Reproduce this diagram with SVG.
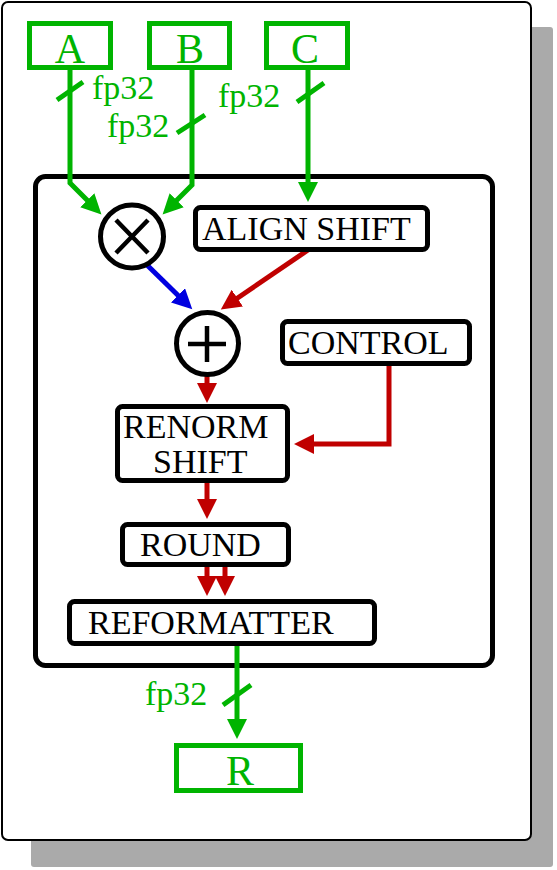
<svg xmlns="http://www.w3.org/2000/svg" width="557" height="870" viewBox="0 0 557 870">
<defs>
<style>
.t{font-family:"Liberation Serif","Times New Roman",serif;font-size:34px;fill:#000}
.g{fill:#00b400}
.big{font-size:42px}
.bx{fill:#fff;stroke:#000;stroke-width:5}
.gb{fill:#fff;stroke:#00b400;stroke-width:5}
.gl{fill:none;stroke:#00b400;stroke-width:5}
.rl{fill:none;stroke:#c00000;stroke-width:5}
.bl{fill:none;stroke:#0000e0;stroke-width:5}
</style>
<marker id="ag" markerUnits="userSpaceOnUse" markerWidth="22" markerHeight="22" refX="1" refY="10" orient="auto"><path d="M0,0L20,10L0,20z" fill="#00b400"/></marker>
<marker id="ar" markerUnits="userSpaceOnUse" markerWidth="22" markerHeight="22" refX="1" refY="10" orient="auto"><path d="M0,0L20,10L0,20z" fill="#c00000"/></marker>
<marker id="ab" markerUnits="userSpaceOnUse" markerWidth="22" markerHeight="22" refX="1" refY="10" orient="auto"><path d="M0,0L20,10L0,20z" fill="#0000e0"/></marker>
</defs>
<rect x="31" y="27" width="522" height="840" rx="3" fill="#aaaaaa"/>
<rect x="2" y="2" width="529" height="838" rx="6" fill="#fff" stroke="#000" stroke-width="2"/>
<g id="unit"><rect x="35.5" y="176.5" width="457" height="489" rx="10" fill="#fff" stroke="#000" stroke-width="5"/></g>
<g id="connectors">
<path class="gl" d="M70,70V183L88,201" marker-end="url(#ag)"/>
<path class="gl" d="M192,70V185L176,201" marker-end="url(#ag)"/>
<path class="gl" d="M308,70V183" marker-end="url(#ag)"/>
<path class="gl" d="M237,646V720" marker-end="url(#ag)"/>
<path class="gl" d="M57,100L83,82M177,133L205,115M297,102L324,83M223,705L251,685"/>
<path class="bl" d="M147,265L178.7,296" marker-end="url(#ab)"/>
<path class="rl" d="M308,250L236.5,298.7" marker-end="url(#ar)"/>
<path class="rl" d="M207,376V384" marker-end="url(#ar)"/>
<path class="rl" d="M389,366V444H313" marker-end="url(#ar)"/>
<path class="rl" d="M207,483V500" marker-end="url(#ar)"/>
<path class="rl" d="M207,567V577" marker-end="url(#ar)"/>
<path class="rl" d="M225,567V577" marker-end="url(#ar)"/>
<text class="t g" x="92" y="99">fp32</text>
<text class="t g" x="107" y="137">fp32</text>
<text class="t g" x="218" y="107">fp32</text>
<text class="t g" x="145" y="705">fp32</text>
</g>
<g id="A"><rect class="gb" x="29.5" y="23.5" width="81" height="44"/><text class="t g big" x="70" y="63" text-anchor="middle">A</text></g>
<g id="B"><rect class="gb" x="149.5" y="23.5" width="80" height="44"/><text class="t g big" x="190" y="63" text-anchor="middle">B</text></g>
<g id="C"><rect class="gb" x="266.5" y="23.5" width="81" height="44"/><text class="t g big" x="305" y="63" text-anchor="middle">C</text></g>
<g id="R"><rect class="gb" x="176.5" y="745.5" width="124" height="45"/><text class="t g big" x="240" y="785" text-anchor="middle">R</text></g>
<g id="mul"><circle cx="132" cy="236.5" r="31.5" fill="#fff" stroke="#000" stroke-width="5"/><path d="M116,220L148,253M148,220L116,253" stroke="#000" stroke-width="4.5"/></g>
<g id="add"><circle cx="207.5" cy="343.5" r="31" fill="#fff" stroke="#000" stroke-width="5"/><path d="M188,344H226M207,326V362" stroke="#000" stroke-width="4.5"/></g>
<g id="align"><rect class="bx" x="195.5" y="207.5" width="232" height="42" rx="5"/><text class="t" x="202" y="240">ALIGN SHIFT</text></g>
<g id="control"><rect class="bx" x="282.5" y="321.5" width="187" height="42" rx="5"/><text class="t" x="288" y="354">CONTROL</text></g>
<g id="renorm"><rect class="bx" x="117.5" y="406.5" width="170" height="74" rx="5"/><text class="t" x="123" y="438">RENORM</text><text class="t" x="153" y="473">SHIFT</text></g>
<g id="round"><rect class="bx" x="122.5" y="524.5" width="166" height="40" rx="5"/><text class="t" x="140" y="556">ROUND</text></g>
<g id="reformatter"><rect class="bx" x="69.5" y="601.5" width="305" height="42" rx="5"/><text class="t" x="88" y="634">REFORMATTER</text></g>
</svg>
